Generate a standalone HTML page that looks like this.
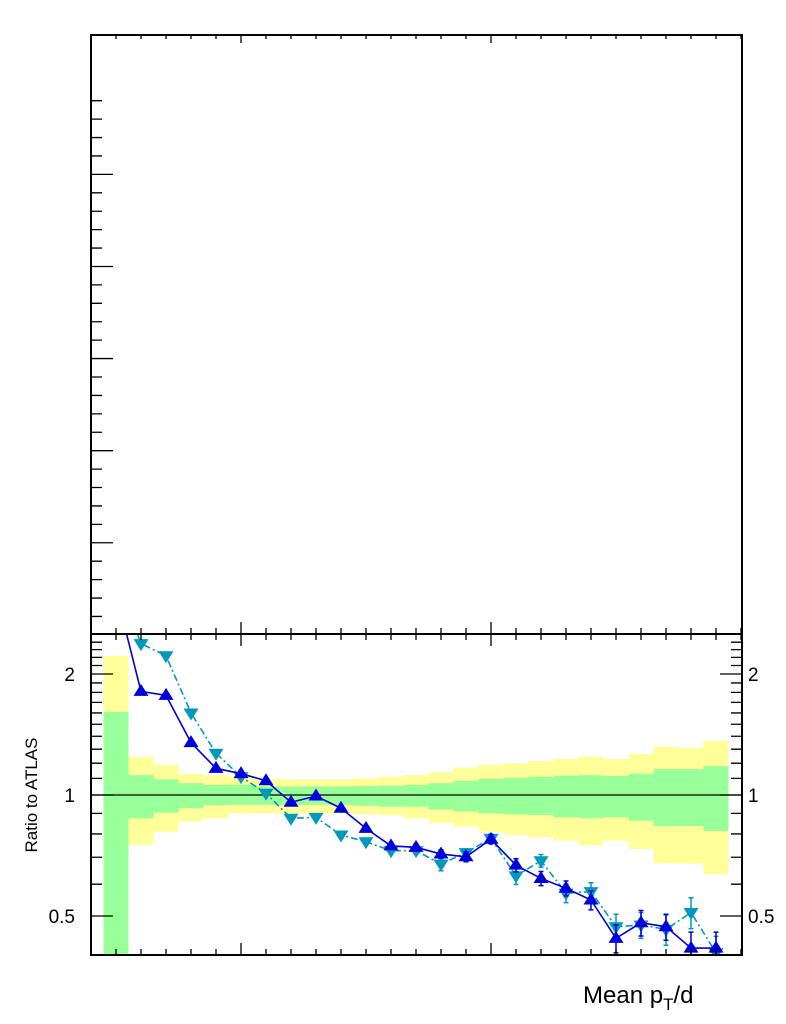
<!DOCTYPE html>
<html><head><meta charset="utf-8"><style>
html,body{margin:0;padding:0;background:#fff;}
svg{display:block;font-family:"Liberation Sans",Arial,sans-serif;}
</style></head><body>
<svg id="c" width="786" height="1024" viewBox="0 0 786 1024">
<defs><clipPath id="rc"><rect x="92" y="635" width="649" height="319"/></clipPath></defs>
<g id="bands" clip-path="url(#rc)"></g>
<g id="marks" clip-path="url(#rc)"></g>
<g id="axes"></g>
<text x="583" y="1003" font-size="24">Mean p<tspan font-size="17" dy="7">T</tspan><tspan dy="-7">/d</tspan></text>
<text transform="translate(37,795) rotate(-90)" text-anchor="middle" font-size="17">Ratio to ATLAS</text>
</svg>
<script>
const bins = [0,1,2,3,4,5,6,7,8,9,10,11,12,13,14,15,16,17,18,19,20,21,22,23,24];
const yellowHi = [2.22,1.245,1.19,1.13,1.12,1.11,1.096,1.095,1.095,1.095,1.1,1.11,1.12,1.14,1.17,1.19,1.2,1.215,1.23,1.245,1.23,1.265,1.32,1.31,1.365];
const greenHi = [1.61,1.12,1.094,1.07,1.06,1.06,1.05,1.05,1.05,1.05,1.052,1.055,1.06,1.07,1.085,1.096,1.104,1.11,1.117,1.12,1.115,1.13,1.16,1.16,1.18];
const greenLo = [0.3,0.875,0.904,0.927,0.944,0.945,0.945,0.945,0.945,0.944,0.94,0.935,0.935,0.92,0.91,0.9,0.895,0.892,0.88,0.875,0.88,0.863,0.837,0.837,0.814];
const yellowLo = [0.3,0.751,0.81,0.86,0.875,0.9,0.9,0.9,0.9,0.9,0.895,0.89,0.875,0.853,0.834,0.81,0.795,0.785,0.77,0.75,0.77,0.734,0.676,0.676,0.635];
const blueVals = [3.2,1.81,1.77,1.35,1.165,1.13,1.085,0.959,0.994,0.927,0.826,0.747,0.741,0.713,0.702,0.776,0.669,0.62,0.586,0.548,0.44,0.481,0.47,0.416,0.416];
const blueErr = [0,0.01,0.01,0.01,0.01,0.01,0.01,0.01,0.01,0.01,0.01,0.012,0.015,0.018,0.02,0.02,0.025,0.025,0.025,0.03,0.035,0.035,0.035,0.04,0.04];
const cyanVals = [3.5,2.38,2.22,1.6,1.27,1.11,1.01,0.875,0.88,0.795,0.765,0.727,0.727,0.673,0.719,0.78,0.629,0.686,0.57,0.575,0.47,0.475,0.463,0.51,0.405];
const cyanErr = [0,0.01,0.01,0.01,0.01,0.01,0.01,0.01,0.01,0.01,0.01,0.012,0.015,0.025,0.015,0.02,0.03,0.025,0.03,0.03,0.035,0.035,0.04,0.045,0.04];
const yLabels = ["2","1","0.5"];
const yLabelVals = [2,1,0.5];

const NS="http://www.w3.org/2000/svg";
function X(b){return 103.5+25*b;}
function Y(r){return 795-121*Math.log2(r);}
function mk(tag,attrs,parent){const e=document.createElementNS(NS,tag);for(const k in attrs)e.setAttribute(k,attrs[k]);parent.appendChild(e);return e;}
const bandsG=document.getElementById('bands'),marksG=document.getElementById('marks'),axesG=document.getElementById('axes');

bins.forEach(i=>{
  let r=mk('rect',{x:X(i),y:Y(yellowHi[i]),width:25,height:Y(yellowLo[i])-Y(yellowHi[i]),fill:'#ffff99'},bandsG);
  
  
  let g=mk('rect',{x:X(i),y:Y(greenHi[i]),width:25,height:Y(greenLo[i])-Y(greenHi[i]),fill:'#99ff99'},bandsG);
  
  
});
let ref=mk('line',{x1:91,x2:742,y1:Y(1),y2:Y(1),stroke:'#000','stroke-width':1.3},bandsG);



function series(vals,errs,color,dash,down,name){
  const pts=bins.map(i=>(X(i)+12.5)+','+Y(vals[i])).join(' ');
  const pl=mk('polyline',{points:pts,fill:'none',stroke:color,'stroke-width':1.6},marksG);
  if(dash)pl.setAttribute('stroke-dasharray',dash);
  
  
  bins.forEach(i=>{
    const cx=X(i)+12.5,cy=Y(vals[i]);
    if(errs[i]>0){
      const y1=Y(vals[i]+errs[i]),y2=Y(vals[i]-errs[i]);
      const e=mk('path',{d:`M${cx},${y1}V${y2}M${cx-2.5},${y1}H${cx+2.5}M${cx-2.5},${y2}H${cx+2.5}`,stroke:color,'stroke-width':1.5,fill:'none'},marksG);
      
      
    }
    const s=7.5;
    const d=down?`M${cx-s},${cy-s*0.6}L${cx+s},${cy-s*0.6}L${cx},${cy+s}Z`:`M${cx-s},${cy+s*0.6}L${cx+s},${cy+s*0.6}L${cx},${cy-s}Z`;
    const m=mk('path',{d:d,fill:color},marksG);
    
    
  });
}
series(cyanVals,cyanErr,'#0099bb','7,3,2,3',true,'cyan-series');
series(blueVals,blueErr,'#0000dd',null,false,'blue-series');

let f1=mk('rect',{x:91,y:35,width:651,height:599,fill:'none',stroke:'#000','stroke-width':2},axesG);


let f2=mk('rect',{x:91,y:634,width:651,height:321,fill:'none',stroke:'#000','stroke-width':2},axesG);



let p='';
for(let k=0;k<29;k++){const y=100.7+18.42*k;if(y>630)break;const major=(k%5===4);p+=`M91,${y}H${91+(major?22:11)}`;}
for(let k=0;k<26;k++){const x=116+25*k;if(x>741)break;const major=(x===241||x===491);
  p+=`M${x},35V${35+(major?8:4)}`;
  p+=`M${x},634V${634-(major?12:6)}M${x},634V${634+(major?12:6)}`;
  p+=`M${x},955V${955-(major?12:6)}`;}
for(let v=0.4;v<=2.55;v+=0.1){const r=Math.round(v*10)/10;const y=Y(r);if(y<636||y>953)continue;
  const major=(r===0.5||r===1||r===2);const L=major?22:11;
  p+=`M91,${y}H${91+L}M742,${y}H${742-L}`;}
let t=mk('path',{d:p,stroke:'#000','stroke-width':1.3,fill:'none'},axesG);



yLabelVals.forEach((v,i)=>{
  const a=mk('text',{x:75,y:Y(v)+7,'text-anchor':'end','font-size':19},axesG);
  a.textContent=yLabels[i];
  
  
  const b=mk('text',{x:748,y:Y(v)+7,'text-anchor':'start','font-size':19},axesG);
  b.textContent=yLabels[i];
  
  
});
</script>
</body></html>
